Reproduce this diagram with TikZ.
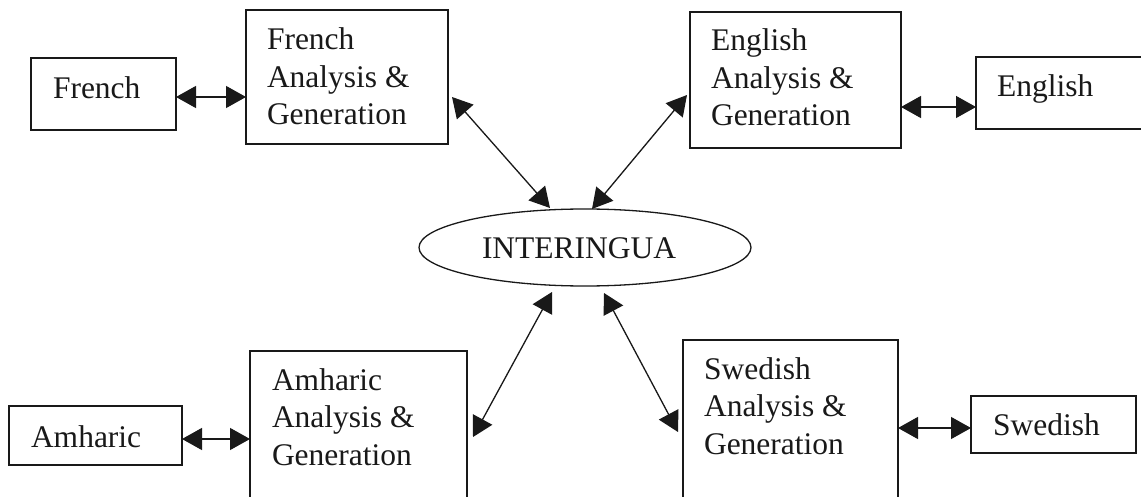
\documentclass[tikz,border=0pt]{standalone}
\usepackage{fontspec}
\setmainfont{Liberation Serif}
\usetikzlibrary{arrows.meta,shapes.geometric,calc}

\begin{document}
\begin{tikzpicture}[x=1pt,y=-1pt,
  every node/.style={inner sep=0pt,outer sep=0pt},
  box/.style={draw=black!90,line width=1.3pt,rectangle},
  hub/.style={draw=black!90,line width=1.3pt,ellipse},
  lbl/.style={anchor=base west,font=\fontsize{31.5}{37.5}\selectfont,text=black!90},
  dbl/.style={line width=1.3pt,draw=black!90,fill=black!85,
    {Triangle[length=20pt,width=22pt]}-{Triangle[length=20pt,width=22pt]}}]
\useasboundingbox (0,0) rectangle (1141,497);
\clip (0,0) rectangle (1141,497);
\fill[white] (0,0) rectangle (1141,497);

% language boxes
\node[box,minimum width=145,minimum height=72] (fr) at (103.5,94) {};
\node[box,minimum width=174,minimum height=72] (en) at (1063,93) {};
\node[box,minimum width=173,minimum height=59] (am) at (95.5,435.5) {};
\node[box,minimum width=165,minimum height=57] (sw) at (1053.5,424.5) {};

% analysis & generation boxes
\node[box,minimum width=202,minimum height=134] (frag) at (347,77) {};
\node[box,minimum width=211,minimum height=136] (enag) at (795.5,80) {};
\node[box,minimum width=217,minimum height=154] (amag) at (358.5,428) {};
\node[box,minimum width=215,minimum height=165] (swag) at (790.5,422.5) {};

% interlingua
\node[hub,minimum width=332,minimum height=77] (inter) at (585,247.5) {};
\node[lbl] (tinter) at (482,259) {INTERINGUA};

% labels
\node[lbl] (tfr) at (53,99) {French};
\node[lbl] (ten) at (997,97) {English};
\node[lbl] (tam) at (31,447) {Amharic};
\node[lbl] (tsw) at (993,435) {Swedish};

\node[lbl] (tfra) at (267,50) {French};
\node[lbl] (tfrb) at (267,88) {Analysis \&};
\node[lbl] (tfrc) at (267,125) {Generation};

\node[lbl] (tena) at (711,51) {English};
\node[lbl] (tenb) at (711,88.5) {Analysis \&};
\node[lbl] (tenc) at (711,126) {Generation};

\node[lbl] (tama) at (272,390) {Amharic};
\node[lbl] (tamb) at (272,427.5) {Analysis \&};
\node[lbl] (tamc) at (272,465) {Generation};

\node[lbl] (tswa) at (704,379) {Swedish};
\node[lbl] (tswb) at (704,416.5) {Analysis \&};
\node[lbl] (tswc) at (704,454) {Generation};

% horizontal links
\draw[dbl] ($(fr.east)+(0,3)$) -- ($(frag.west)+(0,20)$);
\draw[dbl] ($(enag.east)+(0,27)$) -- ($(en.west)+(0,14)$);
\draw[dbl] ($(am.east)+(0,3.5)$) -- ($(amag.west)+(0,11)$);
\draw[dbl] ($(swag.east)+(0,5.5)$) -- ($(sw.west)+(0,3.5)$);

% links to the interlingua
\draw[dbl] ($(frag.east)+(4,20)$) -- ($(inter.north)+(-35,-1)$);
\draw[dbl] ($(enag.west)+(-3,15)$) -- ($(inter.north)+(7,0)$);
\draw[dbl] ($(amag.east)+(6,9)$) -- ($(inter.south)+(-33,6)$);
\draw[dbl] ($(swag.west)+(-5,9.5)$) -- ($(inter.south)+(19,7)$);
\end{tikzpicture}
\end{document}
